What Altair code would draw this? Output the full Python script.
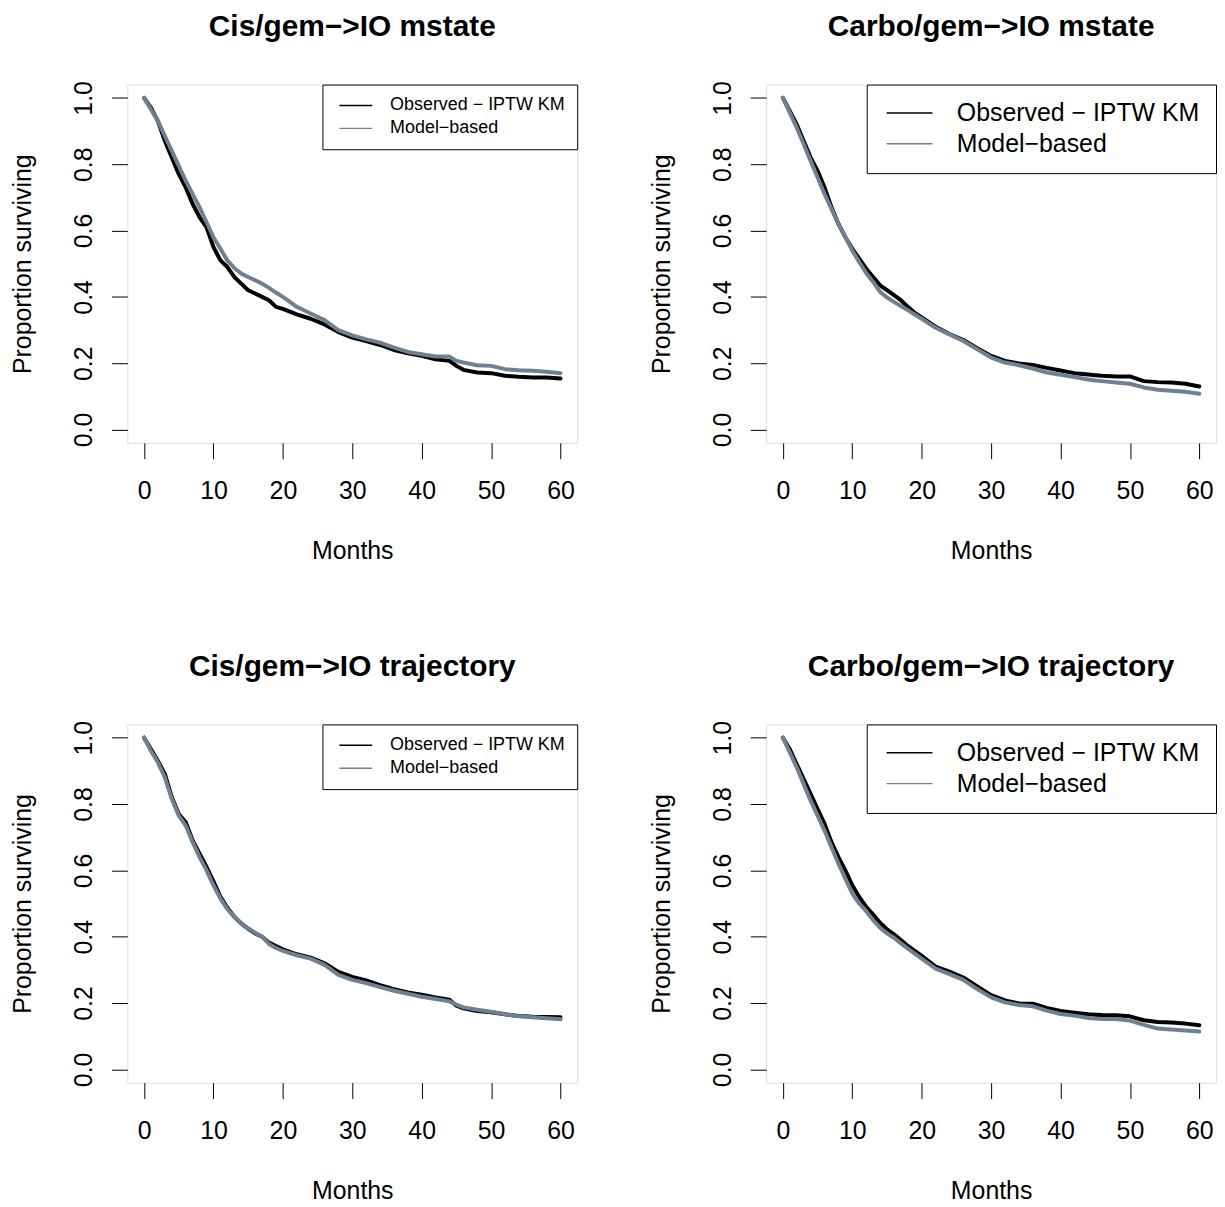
import altair as alt
import pandas as pd

FONT = "Liberation Sans"

months = [0, 1, 2, 3, 4, 5, 6, 7, 8, 9, 10, 11, 12, 13, 14, 15, 16, 17, 18, 19, 20,
          22, 24, 26, 28, 30, 32, 34, 36, 38, 40, 42, 44, 45, 46, 48, 50, 52, 54, 56, 58, 60]

cis_mstate_observed = [1.0, 0.97, 0.93, 0.87, 0.82, 0.77, 0.73, 0.68, 0.64, 0.61, 0.55, 0.51, 0.49, 0.46, 0.44, 0.42, 0.41, 0.40, 0.39, 0.37, 0.364,
                       0.347, 0.334, 0.317, 0.294, 0.277, 0.267, 0.255, 0.24, 0.23, 0.222, 0.212, 0.207, 0.192, 0.18, 0.172, 0.17, 0.162, 0.159, 0.157, 0.157, 0.154]
cis_mstate_model = [1.0, 0.965, 0.93, 0.885, 0.84, 0.795, 0.75, 0.71, 0.67, 0.625, 0.58, 0.545, 0.51, 0.487, 0.47, 0.46, 0.45, 0.44, 0.427, 0.413, 0.40,
                    0.37, 0.35, 0.33, 0.30, 0.284, 0.272, 0.262, 0.247, 0.234, 0.227, 0.22, 0.22, 0.207, 0.202, 0.194, 0.192, 0.182, 0.179, 0.177, 0.174, 0.17]

carbo_mstate_observed = [1.0, 0.96, 0.92, 0.87, 0.82, 0.78, 0.73, 0.67, 0.62, 0.58, 0.545, 0.515, 0.485, 0.46, 0.435, 0.42, 0.405, 0.39, 0.37, 0.352, 0.338,
                         0.31, 0.288, 0.27, 0.245, 0.222, 0.207, 0.199, 0.195, 0.186, 0.178, 0.17, 0.166, 0.164, 0.162, 0.16, 0.16, 0.146, 0.143, 0.142, 0.138, 0.13]
carbo_mstate_model = [1.0, 0.955, 0.91, 0.86, 0.81, 0.76, 0.71, 0.665, 0.62, 0.58, 0.54, 0.505, 0.472, 0.445, 0.415, 0.398, 0.385, 0.372, 0.36, 0.347, 0.334,
                      0.307, 0.287, 0.267, 0.242, 0.217, 0.202, 0.194, 0.184, 0.172, 0.165, 0.158, 0.151, 0.148, 0.146, 0.142, 0.138, 0.127, 0.12, 0.117, 0.114, 0.108]

cis_traj_observed = [1.0, 0.965, 0.93, 0.89, 0.82, 0.77, 0.745, 0.69, 0.65, 0.61, 0.567, 0.52, 0.487, 0.46, 0.44, 0.424, 0.41, 0.40, 0.382, 0.372, 0.362,
                     0.347, 0.337, 0.32, 0.294, 0.279, 0.268, 0.254, 0.242, 0.232, 0.225, 0.217, 0.21, 0.192, 0.184, 0.176, 0.172, 0.166, 0.161, 0.159, 0.158, 0.157]
cis_traj_model = [1.0, 0.96, 0.925, 0.88, 0.815, 0.765, 0.735, 0.685, 0.64, 0.60, 0.555, 0.515, 0.483, 0.46, 0.44, 0.425, 0.412, 0.40, 0.378, 0.366, 0.357,
                  0.344, 0.334, 0.315, 0.285, 0.27, 0.26, 0.248, 0.237, 0.228, 0.219, 0.212, 0.205, 0.195, 0.187, 0.18, 0.174, 0.166, 0.16, 0.157, 0.154, 0.151]

carbo_traj_observed = [1.0, 0.965, 0.92, 0.875, 0.83, 0.785, 0.74, 0.685, 0.64, 0.60, 0.555, 0.52, 0.49, 0.467, 0.442, 0.422, 0.407, 0.39, 0.372, 0.357, 0.342,
                       0.31, 0.295, 0.277, 0.25, 0.224, 0.208, 0.199, 0.198, 0.185, 0.176, 0.171, 0.166, 0.165, 0.164, 0.163, 0.16, 0.148, 0.143, 0.141, 0.138, 0.133]
carbo_traj_model = [1.0, 0.955, 0.91, 0.86, 0.81, 0.765, 0.72, 0.67, 0.62, 0.575, 0.53, 0.50, 0.477, 0.45, 0.427, 0.41, 0.397, 0.38, 0.364, 0.349, 0.334,
                    0.304, 0.287, 0.27, 0.242, 0.217, 0.202, 0.194, 0.19, 0.177, 0.167, 0.162, 0.155, 0.153, 0.152, 0.152, 0.147, 0.134, 0.123, 0.12, 0.117, 0.114]

titles = ["Cis/gem\u2212>IO mstate", "Carbo/gem\u2212>IO mstate",
          "Cis/gem\u2212>IO trajectory", "Carbo/gem\u2212>IO trajectory"]
x_ticks = [0, 10, 20, 30, 40, 50, 60]
y_ticks = [0.0, 0.2, 0.4, 0.6, 0.8, 1.0]
OBS = "Observed \u2212 IPTW KM"
MOD = "Model\u2212based"
series_colors = ["#000000", "#708090"]

# legend styles: small (left column) and large (right column)
LEG_SMALL = dict(padding=12, symbolSize=16.5 ** 2, symbolOffset=12.5, labelOffset=25.5,
                 labelFontSize=18, rowPadding=5)
LEG_BIG = dict(padding=16, symbolSize=23.0 ** 2, symbolOffset=14.5, labelOffset=35,
               labelFontSize=25, rowPadding=5)


def panel(title, obs, mod, big):
    n = len(months)
    df = pd.DataFrame({
        "Months": months + months,
        "Surv": obs + mod,
        "Series": [OBS] * n + [MOD] * n,
    })
    lg = LEG_BIG if big else LEG_SMALL
    color = alt.Color(
        "Series:N",
        scale=alt.Scale(domain=[OBS, MOD], range=series_colors),
        legend=alt.Legend(
            title=None, orient="top-right", offset=0,
            strokeColor="black", fillColor="white",
            symbolType="M-2,0L2,0",
            symbolStrokeWidth=1.5,
            labelFont=FONT, labelColor="black",
            labelLimit=600, cornerRadius=0,
            **lg,
        ),
    )
    x = alt.X(
        "Months:Q",
        scale=alt.Scale(domain=[-2.4, 62.4], nice=False, zero=False),
        axis=alt.Axis(
            values=x_ticks, title="Months", format="d",
            titleFont=FONT, titleFontSize=25, titleFontWeight="normal", titleColor="black",
            titleBaseline="alphabetic", titleY=116,
            labelFont=FONT, labelFontSize=25, labelColor="black",
            labelBaseline="alphabetic", labelPadding=40, labelFlush=False, labelOverlap=False,
            tickSize=16, tickColor="black", tickWidth=1,
            domain=False, grid=False,
        ),
    )
    y = alt.Y(
        "Surv:Q",
        scale=alt.Scale(domain=[-0.04, 1.04], nice=False, zero=False),
        axis=alt.Axis(
            values=y_ticks, title="Proportion surviving", format=".1f",
            titleFont=FONT, titleFontSize=25, titleFontWeight="normal", titleColor="black",
            titleAngle=270, titleAlign="center", titleBaseline="alphabetic",
            titleX=-97, titleY=180,
            labelFont=FONT, labelFontSize=25, labelColor="black",
            labelAngle=270, labelAlign="center", labelBaseline="alphabetic",
            labelPadding=20, labelFlush=False, labelOverlap=False,
            tickSize=16, tickColor="black", tickWidth=1,
            domain=False, grid=False,
        ),
    )
    base = alt.Chart(df).encode(x=x, y=y, color=color)
    obs_line = base.transform_filter(alt.datum.Series == OBS).mark_line(
        strokeWidth=4, strokeCap="round", strokeJoin="round")
    mod_line = base.transform_filter(alt.datum.Series == MOD).mark_line(
        strokeWidth=4, strokeCap="round", strokeJoin="round")
    return alt.layer(obs_line, mod_line).properties(
        width=452, height=360,
        title=alt.TitleParams(
            text=title, font=FONT, fontSize=30, fontWeight="bold", color="black",
            anchor="middle", frame="group", baseline="alphabetic", offset=15,
        ),
    )


p1 = panel(titles[0], cis_mstate_observed, cis_mstate_model, False)
p2 = panel(titles[1], carbo_mstate_observed, carbo_mstate_model, True)
p3 = panel(titles[2], cis_traj_observed, cis_traj_model, False)
p4 = panel(titles[3], carbo_traj_observed, carbo_traj_model, True)

top = alt.hconcat(p1, p2, spacing=71).resolve_scale(color="independent").resolve_legend(color="independent")
bottom = alt.hconcat(p3, p4, spacing=71).resolve_scale(color="independent").resolve_legend(color="independent")

chart = (
    alt.vconcat(top, bottom, spacing=87)
    .resolve_scale(color="independent")
    .resolve_legend(color="independent")
    .properties(padding={"left": 2, "top": 0, "right": 0, "bottom": 0})
    .configure_view(stroke="black", strokeWidth=1)
    .configure(background="white")
)

chart.save("out.html", embed_options={"renderer": "svg", "actions": False})
